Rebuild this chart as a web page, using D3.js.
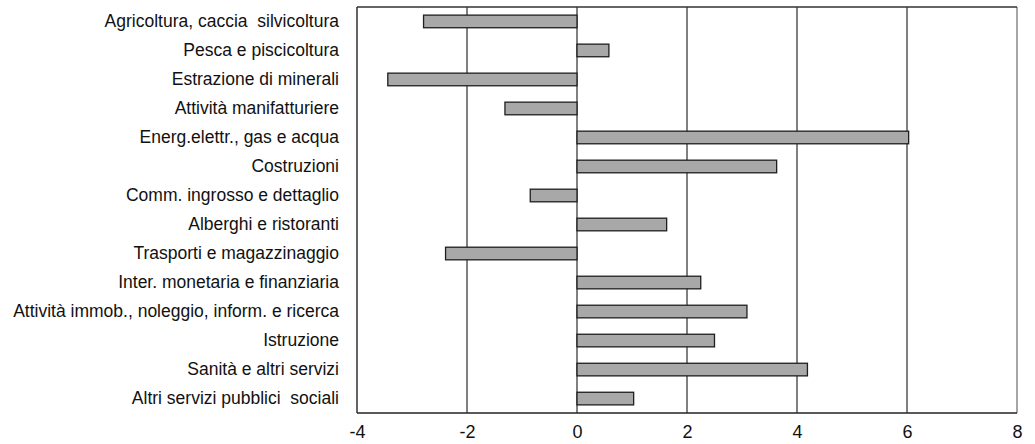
<!DOCTYPE html>
<html><head><meta charset="utf-8">
<script src="https://cdn.jsdelivr.net/npm/d3@7"></script>
<style>body{margin:0;background:#fff}svg{display:block}text{font-family:"Liberation Sans",Arial,sans-serif;fill:#111;white-space:pre}</style>
</head><body><svg id="c" width="1035" height="444"></svg>
<script>
const categories = ["Agricoltura, caccia  silvicoltura","Pesca e piscicoltura","Estrazione di minerali","Attività manifatturiere","Energ.elettr., gas e acqua","Costruzioni","Comm. ingrosso e dettaglio","Alberghi e ristoranti","Trasporti e magazzinaggio","Inter. monetaria e finanziaria","Attività immob., noleggio, inform. e ricerca","Istruzione","Sanità e altri servizi","Altri servizi pubblici  sociali"];
const values = [-2.79, 0.58, -3.44, -1.31, 6.03, 3.63, -0.85, 1.63, -2.39, 2.25, 3.09, 2.5, 4.19, 1.03];
const tickValues = [-4, -2, 0, 2, 4, 6, 8];

const svg = d3.select("#c");
const m = {l:357, r:1017, t:7, b:413};
const x = d3.scaleLinear().domain([-4, 8]).range([m.l, m.r]);
const y = d3.scaleBand().domain(categories).range([m.t, m.b]).paddingInner(0.565).paddingOuter(0.28);

// grid lines
svg.append("g").selectAll("line").data(tickValues.filter(d => d > -4 && d < 8)).join("line")
  .attr("x1", d => x(d)).attr("x2", d => x(d)).attr("y1", m.t).attr("y2", m.b)
  .attr("stroke", "#4a4a4a").attr("stroke-width", 1.4);
// right border
svg.append("line").attr("x1", m.r).attr("x2", m.r).attr("y1", m.t).attr("y2", m.b).attr("stroke", "#6a6a6a").attr("stroke-width", 1.2);
// top border
svg.append("line").attr("x1", m.l).attr("x2", m.r).attr("y1", m.t).attr("y2", m.t).attr("stroke", "#333").attr("stroke-width", 1.4);

// bars
svg.append("g").selectAll("rect").data(values).join("rect")
  .attr("x", d => x(Math.min(0, d)))
  .attr("width", d => Math.abs(x(d) - x(0)))
  .attr("y", (d, i) => y(categories[i]))
  .attr("height", y.bandwidth())
  .attr("fill", "#a8a8a8").attr("stroke", "#1e1e1e").attr("stroke-width", 1.3);

// left axis line and bottom axis line
svg.append("line").attr("x1", m.l).attr("x2", m.l).attr("y1", m.t).attr("y2", m.b).attr("stroke", "#222").attr("stroke-width", 1.4);
svg.append("line").attr("x1", m.l).attr("x2", m.r).attr("y1", m.b).attr("y2", m.b).attr("stroke", "#222").attr("stroke-width", 1.4);

// category labels
const yAxis = d3.axisLeft(y).tickSize(0).tickPadding(18);
const gy = svg.append("g").attr("transform", `translate(${m.l},0)`).call(yAxis);
gy.select(".domain").remove();
gy.selectAll("text").style("font-size", "17.5px").attr("fill", "#111");

// x tick labels
const xAxis = d3.axisBottom(x).tickValues(tickValues).tickSize(0).tickPadding(12).tickFormat(d3.format("d"));
const gx = svg.append("g").attr("transform", `translate(0,${m.b})`).call(xAxis);
gx.select(".domain").remove();
gx.selectAll("text").style("font-size", "18px").attr("fill", "#111").text(d => String(d));
</script></body></html>
